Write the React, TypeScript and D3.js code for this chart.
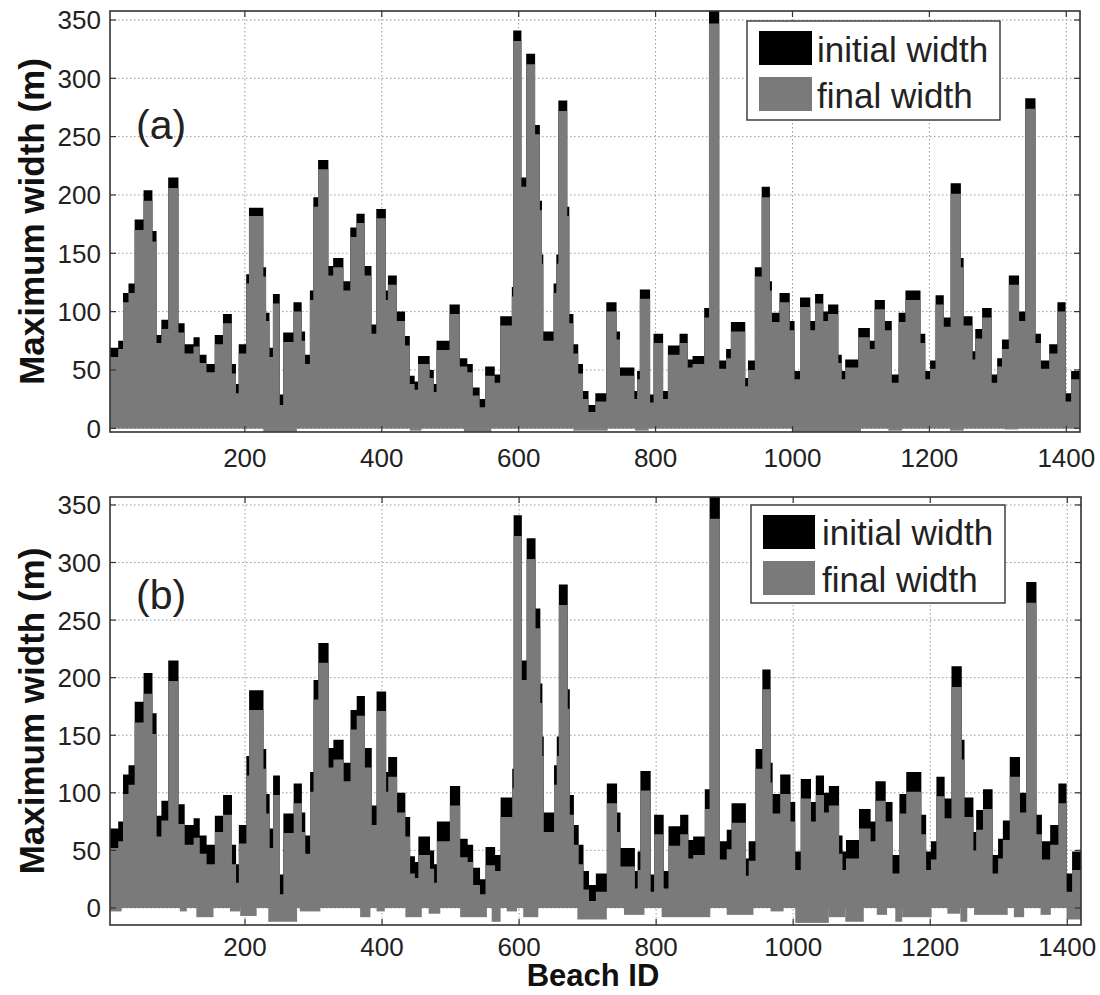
import React from "react";
import * as d3 from "d3";

// Beach segments (start Beach ID of each run of equal values)
const segmentStart = [
  1, 15, 22, 30, 39, 52, 65, 71, 78, 88,
  103, 112, 125, 134, 144, 156, 168, 181, 187, 191,
  202, 206, 227, 231, 236, 241, 251, 256, 271, 283,
  288, 295, 300, 307, 322, 329, 344, 354, 363, 375,
  385, 392, 406, 409, 422, 434, 441, 448, 453, 470,
  476, 480, 499, 514, 525, 533, 543, 551, 565, 573,
  590, 592, 604, 611, 624, 631, 634, 636, 651, 655,
  658, 671, 674, 680, 687, 694, 702, 712, 728, 743,
  748, 769, 773, 777, 792, 797, 811, 818, 835, 847,
  854, 871, 878, 893, 903, 910, 931, 935, 945, 955,
  967, 970, 981, 996, 1003, 1011, 1026, 1033, 1045, 1052,
  1067, 1072, 1077, 1096, 1113, 1120, 1135, 1145, 1155, 1165,
  1187, 1194, 1201, 1209, 1221, 1231, 1246, 1250, 1263, 1267,
  1277, 1291, 1299, 1306, 1316, 1331, 1340, 1355, 1363, 1375,
  1387, 1399, 1407,
];
const lastBeachId = 1420;

const initialWidth = [
  69, 75, 116, 124, 179, 204, 169, 80, 93, 215,
  90, 72, 78, 63, 55, 80, 98, 55, 38, 72,
  132, 189, 138, 99, 69, 115, 29, 82, 108, 83,
  63, 118, 198, 230, 139, 146, 126, 172, 184, 139,
  89, 188, 118, 131, 100, 79, 45, 40, 62, 50,
  38, 75, 106, 60, 55, 35, 25, 53, 46, 96,
  121, 341, 215, 321, 260, 195, 149, 83, 124, 149,
  281, 190, 98, 72, 55, 32, 20, 30, 108, 83,
  52, 32, 49, 119, 29, 81, 32, 71, 81, 59,
  62, 103, 365, 58, 68, 91, 43, 58, 138, 207,
  126, 99, 116, 92, 49, 112, 92, 115, 100, 106,
  63, 49, 59, 86, 75, 110, 92, 46, 99, 118,
  81, 49, 58, 114, 95, 210, 146, 96, 66, 85,
  103, 46, 60, 76, 131, 100, 283, 81, 58, 72,
  108, 30, 49,
];

const finalWidthA = [
  61, 68, 108, 116, 170, 195, 160, 73, 85, 206,
  82, 64, 70, 56, 48, 72, 90, 47, 30, 64,
  124, 182, 130, 92, 61, 107, 20, 74, 100, 75,
  55, 110, 190, 222, 131, 138, 118, 164, 176, 131,
  81, 180, 110, 123, 92, 71, 38, 33, 55, 43,
  31, 67, 98, 53, 48, 28, 18, 45, 39, 88,
  113, 332, 207, 312, 252, 187, 141, 75, 116, 141,
  272, 182, 90, 64, 47, 25, 14, 23, 100, 76,
  45, 25, 42, 111, 22, 73, 25, 63, 73, 52,
  55, 95, 347, 51, 60, 83, 36, 50, 130, 198,
  118, 91, 108, 84, 42, 104, 84, 107, 92, 98,
  56, 42, 52, 78, 68, 102, 84, 39, 91, 110,
  73, 42, 51, 106, 87, 201, 138, 88, 59, 77,
  95, 39, 53, 68, 123, 92, 274, 73, 51, 64,
  100, 23, 42,
];

const finalWidthB = [
  52, 58, 99, 107, 161, 186, 151, 62, 76, 197,
  73, 55, 61, 47, 38, 66, 81, 38, 22, 56,
  115, 172, 121, 82, 52, 98, 12, 65, 91, 66,
  47, 101, 181, 213, 122, 129, 110, 155, 167, 122,
  72, 171, 101, 114, 83, 62, 30, 26, 46, 34,
  22, 58, 89, 44, 40, 20, 12, 37, 32, 79,
  104, 323, 198, 303, 243, 178, 132, 66, 107, 132,
  263, 173, 81, 55, 38, 16, 6, 14, 91, 66,
  36, 17, 33, 102, 14, 64, 17, 54, 64, 43,
  46, 86, 338, 42, 51, 74, 28, 41, 121, 190,
  109, 82, 99, 75, 33, 95, 75, 98, 83, 89,
  47, 33, 43, 69, 58, 93, 75, 30, 82, 101,
  64, 33, 42, 97, 78, 192, 129, 79, 50, 68,
  86, 30, 43, 59, 114, 83, 265, 64, 42, 55,
  91, 14, 33,
];

// Below-zero (negative) final-width runs
const negStartA = [227, 441, 520, 680, 770, 1000, 1140, 1230, 1310];
const negEndA = [276, 458, 560, 730, 790, 1100, 1160, 1250, 1330];
const negValueA = [-3, -2, -3, -2, -2, -3, -2, -2, -1];

const negStartB = [3, 105, 129, 178, 193, 234, 280, 368, 392, 434, 468, 514, 560, 582, 606, 685, 753, 808, 903, 967, 1003, 1052, 1076, 1122, 1149, 1159, 1225, 1244, 1264, 1322, 1361, 1399];
const negEndB = [20, 115, 154, 193, 217, 276, 310, 383, 404, 458, 485, 553, 573, 597, 628, 728, 783, 879, 942, 986, 1052, 1076, 1103, 1137, 1159, 1202, 1244, 1254, 1313, 1337, 1376, 1420];
const negValueB = [-3, -3, -8, -3, -7, -12, -3, -8, -3, -8, -5, -8, -12, -3, -8, -10, -6, -8, -6, -3, -13, -8, -12, -6, -12, -8, -5, -12, -6, -8, -6, -10];

const xTicks = [200, 400, 600, 800, 1000, 1200, 1400];
const yTicks = [0, 50, 100, 150, 200, 250, 300, 350];
const legendLabels = ["initial width", "final width"];
const xLabel = "Beach ID";
const yLabel = "Maximum width (m)";

const GRAY = "#7a7a7a";
const FONT = "'Liberation Sans', Arial, sans-serif";

type PanelCfg = {
  id: string;
  tag: string;
  left: number; right: number; top: number; bottom: number;
  yDomain: [number, number];
  final: number[];
  negStart: number[]; negEnd: number[]; negValue: number[];
  legend: { x: number; y: number; w: number; h: number; sw: number; sx: number; s1: number; s2: number; tx: number; b1: number; b2: number };
  tagPos: { x: number; y: number };
  labelBaseline: number;
};

function Panel({ cfg }: { cfg: PanelCfg }) {
  const x = d3.scaleLinear().domain([3, lastBeachId]).range([cfg.left, cfg.right]);
  const y = d3.scaleLinear().domain(cfg.yDomain).range([cfg.bottom, cfg.top]);
  const clipId = `clip-${cfg.id}`;
  const toPts = (vals: number[]) => {
    const pts = segmentStart.map((s, i) => ({ id: s, v: vals[i] }));
    pts.push({ id: lastBeachId, v: vals[vals.length - 1] });
    return pts;
  };
  const area = d3
    .area<{ id: number; v: number }>()
    .x((d) => x(d.id))
    .y0(y(0))
    .y1((d) => y(d.v))
    .curve(d3.curveStepAfter);
  const initPath = area(toPts(initialWidth)) || "";
  const finalPath = area(toPts(cfg.final)) || "";
  const tickLen = 6;
  const L = cfg.legend;
  return (
    <g>
      <defs>
        <clipPath id={clipId}>
          <rect x={cfg.left} y={cfg.top} width={cfg.right - cfg.left} height={cfg.bottom - cfg.top} />
        </clipPath>
      </defs>
      <rect x={cfg.left} y={cfg.top} width={cfg.right - cfg.left} height={cfg.bottom - cfg.top} fill="#fff" />
      {/* grid */}
      <g stroke="#9a9a9a" strokeWidth={1} strokeDasharray="1.5,2.5">
        {xTicks.map((t) => (
          <line key={"gx" + t} x1={x(t)} x2={x(t)} y1={cfg.top} y2={cfg.bottom} />
        ))}
        {yTicks.map((t) => (
          <line key={"gy" + t} x1={cfg.left} x2={cfg.right} y1={y(t)} y2={y(t)} />
        ))}
      </g>
      {/* bars */}
      <g clipPath={`url(#${clipId})`}>
        <path d={initPath} fill="#000" />
        <path d={finalPath} fill={GRAY} />
        {cfg.negStart.map((s, i) => (
          <rect key={"n" + i} x={x(s)} width={x(cfg.negEnd[i]) - x(s)} y={y(0)} height={y(cfg.negValue[i]) - y(0)} fill={GRAY} />
        ))}
      </g>
      {/* box */}
      <rect x={cfg.left} y={cfg.top} width={cfg.right - cfg.left} height={cfg.bottom - cfg.top} fill="none" stroke="#333" strokeWidth={1.6} />
      {/* ticks */}
      <g stroke="#333" strokeWidth={1.2}>
        {xTicks.map((t) => (
          <g key={"tx" + t}>
            <line x1={x(t)} x2={x(t)} y1={cfg.bottom} y2={cfg.bottom - tickLen} />
            <line x1={x(t)} x2={x(t)} y1={cfg.top} y2={cfg.top + tickLen} />
          </g>
        ))}
        {yTicks.map((t) => (
          <g key={"ty" + t}>
            <line x1={cfg.left} x2={cfg.left + tickLen} y1={y(t)} y2={y(t)} />
            <line x1={cfg.right} x2={cfg.right - tickLen} y1={y(t)} y2={y(t)} />
          </g>
        ))}
      </g>
      {/* tick labels */}
      <g fontFamily={FONT} fontSize={26} fill="#222">
        {yTicks.map((t) => (
          <text key={"ly" + t} x={cfg.left - 9} y={y(t) + 9.5} textAnchor="end">{t}</text>
        ))}
        {xTicks.map((t) => (
          <text key={"lx" + t} x={x(t)} y={cfg.labelBaseline} textAnchor="middle">{t}</text>
        ))}
      </g>
      {/* y label */}
      <text
        transform={`translate(44,${(cfg.top + cfg.bottom) / 2}) rotate(-90)`}
        textAnchor="middle"
        fontFamily={FONT}
        fontWeight="bold"
        fontSize={35}
        fill="#111"
      >
        {yLabel}
      </text>
      {/* panel tag */}
      <text x={cfg.tagPos.x} y={cfg.tagPos.y} fontFamily={FONT} fontSize={41} fill="#222">{cfg.tag}</text>
      {/* legend */}
      <rect x={L.x} y={L.y} width={L.w} height={L.h} fill="#fff" stroke="#333" strokeWidth={1.4} />
      <rect x={L.sx} y={L.s1} width={L.sw} height={34} fill="#000" />
      <rect x={L.sx} y={L.s2} width={L.sw} height={34} fill={GRAY} />
      <g fontFamily={FONT} fontSize={35} fill="#222">
        <text x={L.tx} y={L.b1}>{legendLabels[0]}</text>
        <text x={L.tx} y={L.b2}>{legendLabels[1]}</text>
      </g>
    </g>
  );
}

const panelA: PanelCfg = {
  id: "a",
  tag: "(a)",
  left: 110, right: 1080, top: 11, bottom: 432,
  yDomain: [-3.2, 357.7],
  final: finalWidthA,
  negStart: negStartA, negEnd: negEndA, negValue: negValueA,
  legend: { x: 747, y: 21, w: 253, h: 99, sw: 53, sx: 759, s1: 31, s2: 77, tx: 817, b1: 62, b2: 108 },
  tagPos: { x: 136, y: 139 },
  labelBaseline: 467,
};

const panelB: PanelCfg = {
  id: "b",
  tag: "(b)",
  left: 110, right: 1081, top: 497, bottom: 925,
  yDomain: [-14.8, 356.9],
  final: finalWidthB,
  negStart: negStartB, negEnd: negEndB, negValue: negValueB,
  legend: { x: 751, y: 505, w: 254, h: 98, sw: 52, sx: 763, s1: 515, s2: 561, tx: 822, b1: 545, b2: 592 },
  tagPos: { x: 136, y: 609 },
  labelBaseline: 956,
};

export default function App() {
  return (
    <svg
      width={1100}
      height={995}
      viewBox="0 0 1100 995"
      style={{ position: "absolute", left: 0, top: 0, background: "#fff" }}
    >
      <rect x={0} y={0} width={1100} height={995} fill="#fff" />
      <Panel cfg={panelA} />
      <Panel cfg={panelB} />
      <text x={593} y={986} textAnchor="middle" fontFamily={FONT} fontWeight="bold" fontSize={31} fill="#111">
        {xLabel}
      </text>
    </svg>
  );
}
